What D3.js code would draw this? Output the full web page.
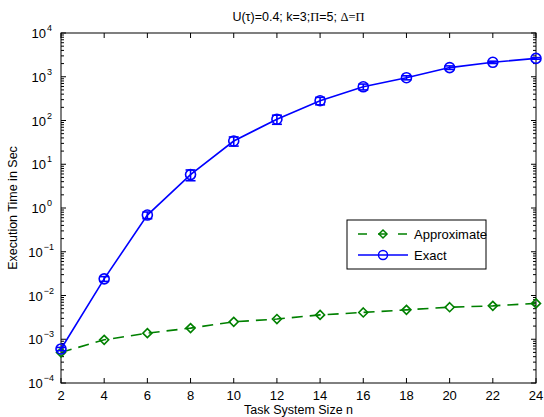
<!DOCTYPE html>
<html>
<head>
<meta charset="utf-8">
<style>
  body { margin: 0; background: #fff; }
  svg { font-family: "Liberation Sans", Arial, sans-serif; }
</style>
</head>
<body>
<script src="https://d3js.org/d3.v7.min.js"></script>
<script>
// data
var sizes = [2, 4, 6, 8, 10, 12, 14, 16, 18, 20, 22, 24];
var approx = [0.0005, 0.00097, 0.00138, 0.0018, 0.0025, 0.0029, 0.0036, 0.0041, 0.0047, 0.0054, 0.0058, 0.0066];
var exact = [0.0006, 0.024, 0.69, 5.8, 34, 107, 283, 590, 950, 1620, 2140, 2630];
var exactErr = [0.00005, 0.003, 0.12, 1.6, 8, 25, 55, 90, 100, 150, 130, 110];
var xTicks = [2, 4, 6, 8, 10, 12, 14, 16, 18, 20, 22, 24];
var yExps = [-4, -3, -2, -1, 0, 1, 2, 3, 4];

var width = 544, height = 417;
var pLeft = 61, pRight = 536, pTop = 33, pBottom = 383;

var svg = d3.select("body").append("svg")
    .attr("width", width)
    .attr("height", height);

var x = d3.scaleLinear().domain([2, 24]).range([pLeft, pRight]);
var y = d3.scaleLog().domain([1e-4, 1e4]).range([pBottom, pTop]);

var blue = "#0000ff", green = "#008000";

// frame
svg.append("rect")
    .attr("x", pLeft).attr("y", pTop)
    .attr("width", pRight - pLeft).attr("height", pBottom - pTop)
    .attr("fill", "none").attr("stroke", "#000").attr("stroke-width", 1);

// x ticks, inward, bottom and top
var tk = svg.append("g").attr("stroke", "#000").attr("stroke-width", 1);
xTicks.forEach(function (t) {
    tk.append("line").attr("x1", x(t)).attr("x2", x(t)).attr("y1", pBottom).attr("y2", pBottom - 5);
    tk.append("line").attr("x1", x(t)).attr("x2", x(t)).attr("y1", pTop).attr("y2", pTop + 5);
});
// y ticks, major and minor, left and right
yExps.forEach(function (e) {
    var v = Math.pow(10, e);
    tk.append("line").attr("x1", pLeft).attr("x2", pLeft + 5).attr("y1", y(v)).attr("y2", y(v));
    tk.append("line").attr("x1", pRight).attr("x2", pRight - 5).attr("y1", y(v)).attr("y2", y(v));
    if (e < 4) {
        for (var m = 2; m < 10; m++) {
            var yy = y(m * v);
            tk.append("line").attr("x1", pLeft).attr("x2", pLeft + 3).attr("y1", yy).attr("y2", yy);
            tk.append("line").attr("x1", pRight).attr("x2", pRight - 3).attr("y1", yy).attr("y2", yy);
        }
    }
});

// tick labels
svg.append("g").selectAll("text").data(xTicks).join("text")
    .attr("x", d => x(d)).attr("y", pBottom + 17)
    .attr("text-anchor", "middle").attr("font-size", 13)
    .text(d => d);

var yl = svg.append("g").selectAll("text").data(yExps).join("text")
    .attr("x", d => d < 0 ? 54 : 52).attr("y", d => y(Math.pow(10, d)) + 5)
    .attr("text-anchor", "end").attr("font-size", 13);
yl.append("tspan").text("10");
yl.append("tspan").attr("font-size", 9).attr("dy", -7).attr("dx", 1).text(d => d < 0 ? "\u2212" + (-d) : d);

// title
var title = svg.append("text")
    .attr("x", (pLeft + pRight) / 2).attr("y", 21)
    .attr("text-anchor", "middle").attr("font-size", 12.5);
title.append("tspan").text("U(\u03c4)=0.4; k=3;");
title.append("tspan").attr("font-family", "Liberation Serif").text("\u03a0");
title.append("tspan").text("=5; ");
title.append("tspan").attr("font-family", "Liberation Serif").text("\u0394=\u03a0");

// axis labels
svg.append("text")
    .attr("x", (pLeft + pRight) / 2).attr("y", 414)
    .attr("text-anchor", "middle").attr("font-size", 12.5)
    .text("Task System Size n");
svg.append("text")
    .attr("transform", "translate(17," + ((pTop + pBottom) / 2) + ") rotate(-90)")
    .attr("text-anchor", "middle").attr("font-size", 12.5)
    .text("Execution Time in Sec");

var line = d3.line().x((d, i) => x(sizes[i])).y(d => y(d));

// approximate series
svg.append("path").datum(approx)
    .attr("d", line)
    .attr("fill", "none").attr("stroke", green).attr("stroke-width", 1.6)
    .attr("stroke-dasharray", "11,7");

var diamond = function (cx, cy, r) {
    return "M" + cx + "," + (cy - r) + "L" + (cx + r) + "," + cy + "L" + cx + "," + (cy + r) + "L" + (cx - r) + "," + cy + "Z";
};
svg.append("g").selectAll("path").data(approx).join("path")
    .attr("d", (d, i) => diamond(x(sizes[i]), y(d), 4.5))
    .attr("fill", "none").attr("stroke", green).attr("stroke-width", 1.6);

// exact series
svg.append("path").datum(exact)
    .attr("d", line)
    .attr("fill", "none").attr("stroke", blue).attr("stroke-width", 1.6);

var eb = svg.append("g").attr("stroke", blue).attr("stroke-width", 1.6);
exact.forEach(function (v, i) {
    var cx = x(sizes[i]);
    var y0 = y(v + exactErr[i]), y1 = y(v - exactErr[i]);
    eb.append("line").attr("x1", cx).attr("x2", cx).attr("y1", y0).attr("y2", y1);
    eb.append("line").attr("x1", cx - 5).attr("x2", cx + 5).attr("y1", y0).attr("y2", y0);
    eb.append("line").attr("x1", cx - 5).attr("x2", cx + 5).attr("y1", y1).attr("y2", y1);
});
svg.append("g").selectAll("circle").data(exact).join("circle")
    .attr("cx", (d, i) => x(sizes[i])).attr("cy", d => y(d)).attr("r", 5)
    .attr("fill", "none").attr("stroke", blue).attr("stroke-width", 1.6);

// legend
var lg = svg.append("g");
lg.append("rect")
    .attr("x", 347).attr("y", 220).attr("width", 139).attr("height", 49)
    .attr("fill", "#fff").attr("stroke", "#000").attr("stroke-width", 1);
var items = [
    { name: "Approximate", color: green, dash: "9,11", mark: "diamond" },
    { name: "Exact", color: blue, dash: null, mark: "circle" }
];
items.forEach(function (it, i) {
    var ly = 234 + i * 21;
    lg.append("line").attr("x1", 358).attr("x2", 408).attr("y1", ly).attr("y2", ly)
        .attr("stroke", it.color).attr("stroke-width", 1.5)
        .attr("stroke-dasharray", it.dash);
    if (it.mark === "diamond") {
        lg.append("path").attr("d", diamond(383, ly, 4))
            .attr("fill", "none").attr("stroke", it.color).attr("stroke-width", 1.5);
    } else {
        lg.append("circle").attr("cx", 383).attr("cy", ly).attr("r", 4.5)
            .attr("fill", "none").attr("stroke", it.color).attr("stroke-width", 1.5);
    }
    lg.append("text").attr("x", 414).attr("y", ly + 5)
        .attr("font-size", 13).text(it.name);
});
</script>
</body>
</html>
